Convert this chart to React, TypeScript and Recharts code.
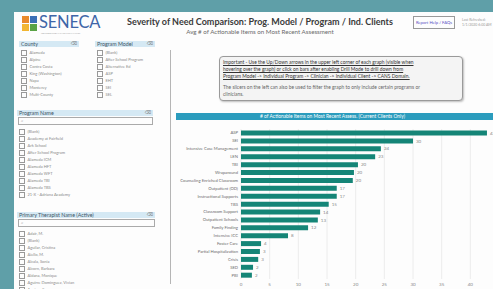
import React from "react";
import {
  Bar,
  BarChart,
  CartesianGrid,
  LabelList,
  XAxis,
  YAxis,
} from "recharts";

// values (avg # of actionable items)
const programModels = [
  "ASP",
  "SEI",
  "Intensive Case Management",
  "LEN",
  "TBI",
  "Wraparound",
  "Counseling Enriched Classroom",
  "Outpatient (OD)",
  "Instructional Supports",
  "TBS",
  "Classroom Support",
  "Outpatient Schools",
  "Family Finding",
  "Intensive ICC",
  "Foster Care",
  "Partial Hospitalization",
  "Crisis",
  "SED",
  "PBI",
];
const avgItems = [
  42.9, 30.0, 24.4, 23.4, 20.4, 19.7, 19.5, 16.7, 16.7, 15.3, 13.8, 13.4, 11.7,
  8.2, 3.5, 3.3, 3.0, 2.1, 1.9,
];
const xTicks = [0, 5, 10, 15, 20, 25, 30, 35, 40];

const countyItems = [
  "Alameda",
  "Alpine",
  "Contra Costa",
  "King (Washington)",
  "Napa",
  "Monterey",
  "Multi-County",
];
const modelItems = [
  "(Blank)",
  "After School Program",
  "Alternative Ed",
  "ASP",
  "EHT",
  "SEI",
  "SEL",
];
const programItems = [
  "(Blank)",
  "Academy at Fairfield",
  "Ark School",
  "After School Program",
  "Alameda ICM",
  "Alameda HFT",
  "Alameda WFT",
  "Alameda TBI",
  "Alameda TBS",
  "21-X - Adriana Academy",
];
const therapistItems = [
  "Adair, M.",
  "(Blank)",
  "Aguilar, Cristina",
  "Aiello, M.",
  "Alcala, Sonia",
  "Alcorn, Barbara",
  "Aldana, Monique",
  "Aguirre Dominguez, Vivian",
  "Aguirre, Sean",
];

const data = programModels.map((name, i) => ({ name, value: avgItems[i] }));

const FONT = "Lato, 'Open Sans', 'DejaVu Sans', sans-serif";
const abs = (l: number, t: number, w?: number, h?: number): React.CSSProperties => ({
  position: "absolute",
  left: l,
  top: t,
  width: w,
  height: h,
});

// single-line category labels (recharts wraps long ones otherwise)
function CategoryTick(props: any) {
  return (
    <text
      x={props.x}
      y={props.y}
      dy={1.5}
      textAnchor="end"
      fontSize={4.2}
      fill="#6a6a6a"
      fontFamily={FONT}
    >
      {props.payload.value}
    </text>
  );
}

function Slicer(props: {
  title: string;
  items: string[];
  left: number;
  top: number;
  width: number;
  search?: boolean;
}) {
  const { title, items, left, top, width, search } = props;
  const listTop = search ? top + 19 : top + 9;
  return (
    <>
      <div
        style={{
          ...abs(left, top, width, 6),
          background: "#d5e9f4",
          fontSize: 5.3,
          lineHeight: "6px",
          color: "#3d5566",
          paddingLeft: 2,
          boxSizing: "border-box",
          whiteSpace: "nowrap",
        }}
      >
        {title}
        <span style={{ position: "absolute", right: 2, color: "#777", fontSize: 4.5 }}>⌫</span>
      </div>
      {search && (
        <div
          style={{
            ...abs(left + 1, top + 7, width - 1, 8),
            border: "1px solid #aaa",
            boxSizing: "border-box",
            fontSize: 4.5,
            lineHeight: "6px",
            color: "#999",
            paddingLeft: 2,
          }}
        >
          ⌕
        </div>
      )}
      {items.map((it, i) => (
        <div
          key={it + i}
          style={{
            ...abs(left + 2, listTop + i * 7, width, 6),
            fontSize: 4,
            lineHeight: "5px",
            color: "#8a8a8a",
            whiteSpace: "nowrap",
          }}
        >
          <span
            style={{
              display: "inline-block",
              width: 3.5,
              height: 3.5,
              border: "0.6px solid #999",
              marginRight: 3,
              verticalAlign: "middle",
            }}
          />
          {it}
        </div>
      ))}
    </>
  );
}

export default function App() {
  return (
    <div
      style={{
        ...abs(0, 0, 493, 289),
        background: "#5f9fa8",
        overflow: "hidden",
        fontFamily: FONT,
      }}
    >
      <div style={{ ...abs(14, 12, 479, 277), background: "#fdfdfd" }} />

      {/* logo */}
      <div style={{ ...abs(22, 16, 7, 7), background: "#e98a2b" }} />
      <div style={{ ...abs(30, 16, 7, 7), background: "#3b6fb6" }} />
      <div style={{ ...abs(22, 24, 7, 7), background: "#f2b632" }} />
      <div style={{ ...abs(30, 24, 7, 7), background: "#5aa346" }} />
      <div
        style={{
          ...abs(39, 12, 56, 20),
          fontSize: 16.5,
          lineHeight: "20px",
          color: "#3f66a8",
          letterSpacing: -0.2,
        }}
      >
        SENECA
      </div>
      <div
        style={{
          ...abs(41, 32, 60, 3),
          fontSize: 2.2,
          lineHeight: "3px",
          color: "#aaa",
          whiteSpace: "nowrap",
        }}
      >
        UNCONDITIONAL CARE FOR FAMILIES
      </div>

      {/* title */}
      <div
        style={{
          ...abs(110, 16, 300, 12),
          fontSize: 9,
          lineHeight: "12px",
          fontWeight: 700,
          color: "#3a3a3a",
          textAlign: "center",
          whiteSpace: "nowrap",
        }}
      >
        Severity of Need Comparison: Prog. Model / Program / Ind. Clients
      </div>
      <div
        style={{
          ...abs(150, 28, 220, 8),
          fontSize: 6.2,
          lineHeight: "8px",
          color: "#6a6a6a",
          textAlign: "center",
          whiteSpace: "nowrap",
        }}
      >
        Avg # of Actionable Items on Most Recent Assessment
      </div>
      <div
        style={{
          ...abs(413, 16, 42, 13),
          border: "1px solid #999",
          boxSizing: "border-box",
          fontSize: 4.2,
          lineHeight: "11px",
          color: "#5b4fc4",
          textAlign: "center",
          whiteSpace: "nowrap",
        }}
      >
        Report Help / FAQs
      </div>
      <div
        style={{
          ...abs(462, 18, 40, 12),
          fontSize: 3.5,
          lineHeight: "4.5px",
          color: "#999",
          whiteSpace: "nowrap",
        }}
      >
        Last Refreshed:
        <br />
        1/1/2020 6:00 AM
      </div>

      {/* slicers */}
      <Slicer title="County" items={countyItems} left={19} top={41} width={60} />
      <Slicer title="Program Model" items={modelItems} left={95} top={41} width={60} />
      <Slicer title="Program Name" items={programItems} left={17} top={110} width={136} search />
      <Slicer
        title="Primary Therapist Name (Active)"
        items={therapistItems}
        left={17}
        top={212}
        width={138}
        search
      />
      <div style={{ ...abs(170, 50, 1, 234), background: "#b5b5b5" }} />

      {/* info box */}
      <div
        style={{
          ...abs(219, 56, 244, 45),
          border: "1px solid #9a9a9a",
          borderRadius: 4,
          background: "#f4f4f4",
          boxSizing: "border-box",
          boxShadow: "1px 1px 2px rgba(0,0,0,0.25)",
          padding: "2px 3px",
          fontSize: 4.9,
          lineHeight: "7px",
          color: "#333",
          whiteSpace: "nowrap",
        }}
      >
        <div style={{ textDecoration: "underline" }}>
          Important - Use the Up/Down arrows in the upper left corner of each graph (visible when
          <br />
          hovering over the graph) or click on bars after enabling Drill Mode to drill down from
          <br />
          Program Model -&gt; Individual Program -&gt; Clinician -&gt; Individual Client -&gt; CANS Domain.
        </div>
        <div style={{ marginTop: 4, color: "#666" }}>
          The slicers on the left can also be used to filter the graph to only include certain programs or
          <br />
          clinicians.
        </div>
      </div>

      {/* chart header */}
      <div
        style={{
          ...abs(176, 113, 317, 7),
          background: "#2b9cbd",
          color: "#fff",
          fontSize: 4.9,
          lineHeight: "7px",
          textAlign: "center",
          paddingRight: 4,
          boxSizing: "border-box",
          whiteSpace: "nowrap",
        }}
      >
        # of Actionable Items on Most Recent Assess. (Current Clients Only)
      </div>

      <div style={abs(170, 122, 333, 167)}>
        <BarChart
          width={333}
          height={167}
          data={data}
          layout="vertical"
          margin={{ top: 7, right: 4, left: 0, bottom: 0 }}
          barCategoryGap="20%"
        >
          <CartesianGrid horizontal={false} stroke="#ececec" />
          <XAxis
            type="number"
            domain={[0, 45]}
            ticks={xTicks}
            axisLine={false}
            tickLine={false}
            tickSize={0}
            height={10}
            tick={{ fontSize: 4.5, fill: "#888" }}
            tickMargin={4}
          />
          <YAxis
            type="category"
            dataKey="name"
            width={71}
            interval={0}
            axisLine={false}
            tickLine={false}
            tickSize={0}
            tickMargin={3}
            tick={<CategoryTick />}
          />
          <Bar dataKey="value" fill="#158577" isAnimationActive={false}>
            <LabelList
              dataKey="value"
              position="right"
              offset={3}
              formatter={(v: any) => Math.round(Number(v))}
              style={{ fontSize: 4.5, fill: "#888" }}
            />
          </Bar>
        </BarChart>
      </div>
    </div>
  );
}
